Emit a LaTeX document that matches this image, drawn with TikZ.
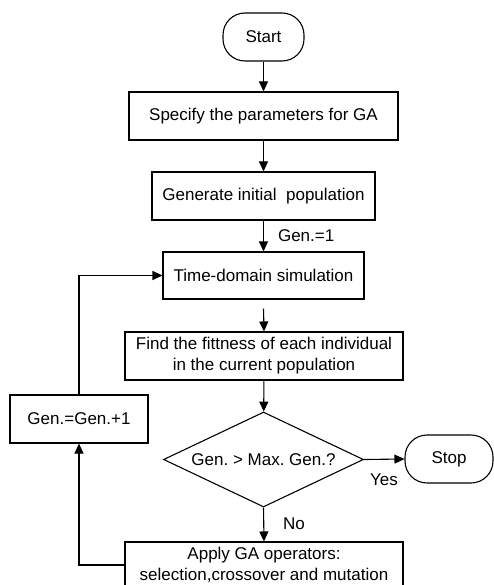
\documentclass[tikz,border=0pt]{standalone}
\usepackage{fontspec}
\setmainfont{Liberation Sans}
\usetikzlibrary{shapes.geometric,arrows.meta}
\frenchspacing
\begin{document}
\begin{tikzpicture}[x=1pt,y=-1pt,
  every node/.style={font=\fontsize{17}{21}\selectfont\frenchspacing, inner sep=0pt},
  box/.style={draw, line width=1.1pt, rectangle, align=center},
  term/.style={draw, line width=1.1pt, rectangle, rounded corners=22pt},
  dec/.style={draw, line width=1.1pt, diamond, shape aspect=2.1, minimum width=200pt, minimum height=95pt},
  conn/.style={line width=1.1pt, -{Triangle[length=10pt,width=9pt]}}
]
\useasboundingbox (0,0) rectangle (494,585);
\node[term, minimum width=81pt, minimum height=48pt] (start) at (263.5,37) {Start};
\node[box, minimum width=269pt, minimum height=48pt] (b1) at (263.5,116) {Specify the parameters for GA};
\node[box, minimum width=223pt, minimum height=48pt] (b2) at (263.5,196) {Generate initial\ \ population};
\node[box, minimum width=201pt, minimum height=47pt] (b3) at (263.5,275.5) {Time-domain simulation};
\node[box, minimum width=278pt, minimum height=48pt] (b4) at (264,356) {Find the fittness of each individual\\in the current population};
\node[dec] (dia) at (263.5,459.5) {Gen. > Max. Gen.?};
\node[term, minimum width=88pt, minimum height=48pt] (stop) at (449,459) {Stop};
\node[box, minimum width=278pt, minimum height=46pt] (b5) at (264,565) {Apply GA operators:\\selection,crossover and mutation};
\node[box, minimum width=138pt, minimum height=48pt] (gen) at (79,419) {Gen.=Gen.+1};

\draw[conn] (start) -- (b1);
\draw[conn] (b1) -- (b2);
\draw[conn] (b2) -- node[right=14pt] (l1) {Gen.=1} (b3);
\draw[conn] ([yshift=-9pt]b3.south) -- (b4.north);
\draw[conn] (b4) -- (dia);
\draw[conn] (dia.east) -- (stop.west);
\node (yes) at (384,480) {Yes};
\draw[conn] (dia.south) -- (b5.north);
\node (no) at (294,524) {No};
\draw[conn] (b5.west) -| (gen.south);
\draw[conn] (gen.north) |- (b3.west);
\end{tikzpicture}
\end{document}
